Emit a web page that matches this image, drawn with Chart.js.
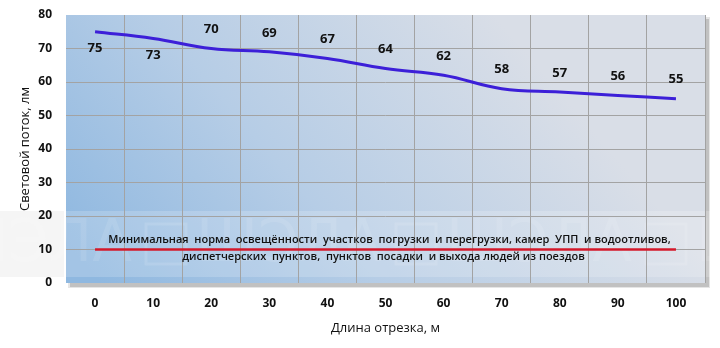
<!DOCTYPE html>
<html>
<head>
<meta charset="utf-8">
<script src="https://cdn.jsdelivr.net/npm/chart.js@4"></script>
<style>
  html, body { margin: 0; padding: 0; background: #fff; }
  #wrap { width: 720px; height: 348px; position: relative; }
</style>
</head>
<body>
<div id="wrap"><canvas id="lightChart"></canvas></div>
<script>
// distance along the segment, m
const xLength = ['0', '10', '20', '30', '40', '50', '60', '70', '80', '90', '100'];
// luminous flux, lm
const yFlux = [75, 73, 70, 69, 67, 64, 62, 58, 57, 56, 55];
// minimal norm
const yNorm = [10, 10, 10, 10, 10, 10, 10, 10, 10, 10, 10];
const normText = [
    'Минимальная  норма  освещённости  участков  погрузки  и перегрузки, камер  УПП  и водоотливов,',
    'диспетчерских  пунктов,  пунктов  посадки  и выхода людей из поездов'
];

// background gradient, shadow and watermark band behind the plot
const bgPlugin = {
    id: 'bg',
    beforeDraw(chart) {
        const { ctx, chartArea: a } = chart;
        ctx.save();
        // shadow
        ctx.fillStyle = 'rgba(0,0,0,0.16)';
        ctx.fillRect(a.left + 4, a.top + 4, a.width, a.height);
        ctx.fillStyle = 'rgba(0,0,0,0.10)';
        ctx.fillRect(a.left + 2, a.top + 2, a.width + 3, a.height + 3);
        const g = ctx.createLinearGradient(a.left, a.bottom - 40, a.left + 360, a.top - 80);
        g.addColorStop(0, '#8fb8e0');
        g.addColorStop(0.45, '#b6cde6');
        g.addColorStop(1, '#d9dee7');
        ctx.fillStyle = g;
        ctx.fillRect(a.left, a.top, a.width, a.height);
        // watermark band
        ctx.fillStyle = 'rgba(255,255,255,0.18)';
        ctx.fillRect(0, 211, 720, 66);
        ctx.fillStyle = 'rgba(0,0,0,0.04)';
        ctx.fillRect(0, 211, 64, 66);
        ctx.font = '58px "DejaVu Sans"';
        ctx.textBaseline = 'middle';
        ctx.fillStyle = 'rgba(255,255,255,0.10)';
        ctx.strokeStyle = 'rgba(255,255,255,0.12)';
        ctx.lineWidth = 3;
        for (let i = -1; i < 4; i++) {
            const x0 = 150 + i * 250;
            ctx.strokeRect(x0 - 4, 224, 40, 40);
            ctx.fillText('ШЭЛА', x0 + 46, 246);
        }
        ctx.restore();
    }
};

// value labels and the note over the red line
const labelPlugin = {
    id: 'labels',
    afterDatasetsDraw(chart) {
        const { ctx } = chart;
        const pts = chart.getDatasetMeta(0).data;
        ctx.save();
        ctx.font = 'bold 13px "Open Sans"';
        ctx.fillStyle = '#111';
        ctx.textAlign = 'center';
        ctx.textBaseline = 'middle';
        pts.forEach((p, i) => {
            const dy = i < 2 ? 17 : -19;
            ctx.fillText(yFlux[i], p.x, p.y + dy);
        });
        const n = chart.getDatasetMeta(1).data[5];
        ctx.font = '600 11px "Open Sans"';
        ctx.fillText(normText[0], n.x + 4, n.y - 10);
        ctx.fillText(normText[1], n.x - 2, n.y + 7);
        ctx.restore();
    }
};

const edgeHidden = (c, last) => (c.index === 0 || c.index === last) ? 'rgba(0,0,0,0)' : '#a3a3a3';

new Chart(document.getElementById('lightChart'), {
    type: 'line',
    data: {
        labels: xLength,
        datasets: [
            {
                data: yFlux,
                borderColor: '#3c1fd8',
                borderWidth: 3,
                pointRadius: 0,
                tension: 0.4,
                fill: false
            },
            {
                data: yNorm,
                borderColor: '#d4182a',
                borderWidth: 2.5,
                pointRadius: 0,
                fill: false
            }
        ]
    },
    options: {
        responsive: true,
        maintainAspectRatio: false,
        animation: false,
        layout: { padding: { top: 15, right: 15, left: 17, bottom: 12 } },
        plugins: {
            legend: { display: false },
            tooltip: { enabled: false }
        },
        scales: {
            x: {
                offset: true,
                afterFit: s => { s.height = 53; },
                grid: { offset: true, drawTicks: false, color: c => edgeHidden(c, 11) },
                border: { display: false },
                ticks: {
                    padding: 13,
                    color: '#111',
                    font: { family: 'Open Sans', weight: 'bold', size: 12 }
                },
                title: {
                    display: true,
                    text: 'Длина отрезка, м',
                    color: '#111',
                    font: { family: 'Open Sans', size: 13 },
                    padding: { top: 0, bottom: 0 }
                }
            },
            y: {
                min: 0,
                max: 80,
                afterFit: s => { s.width = 49; s.paddingTop = 0; s.paddingBottom = 0; },
                grid: { drawTicks: false, color: c => edgeHidden(c, 8) },
                border: { display: false },
                ticks: {
                    stepSize: 10,
                    padding: 14,
                    color: '#111',
                    font: { family: 'Open Sans', weight: 'bold', size: 12 }
                },
                title: {
                    display: true,
                    text: 'Световой поток, лм',
                    color: '#111',
                    font: { family: 'Open Sans', size: 13 },
                    padding: { top: 0, bottom: 0 }
                }
            }
        }
    },
    plugins: [bgPlugin, labelPlugin]
});
</script>
</body>
</html>
